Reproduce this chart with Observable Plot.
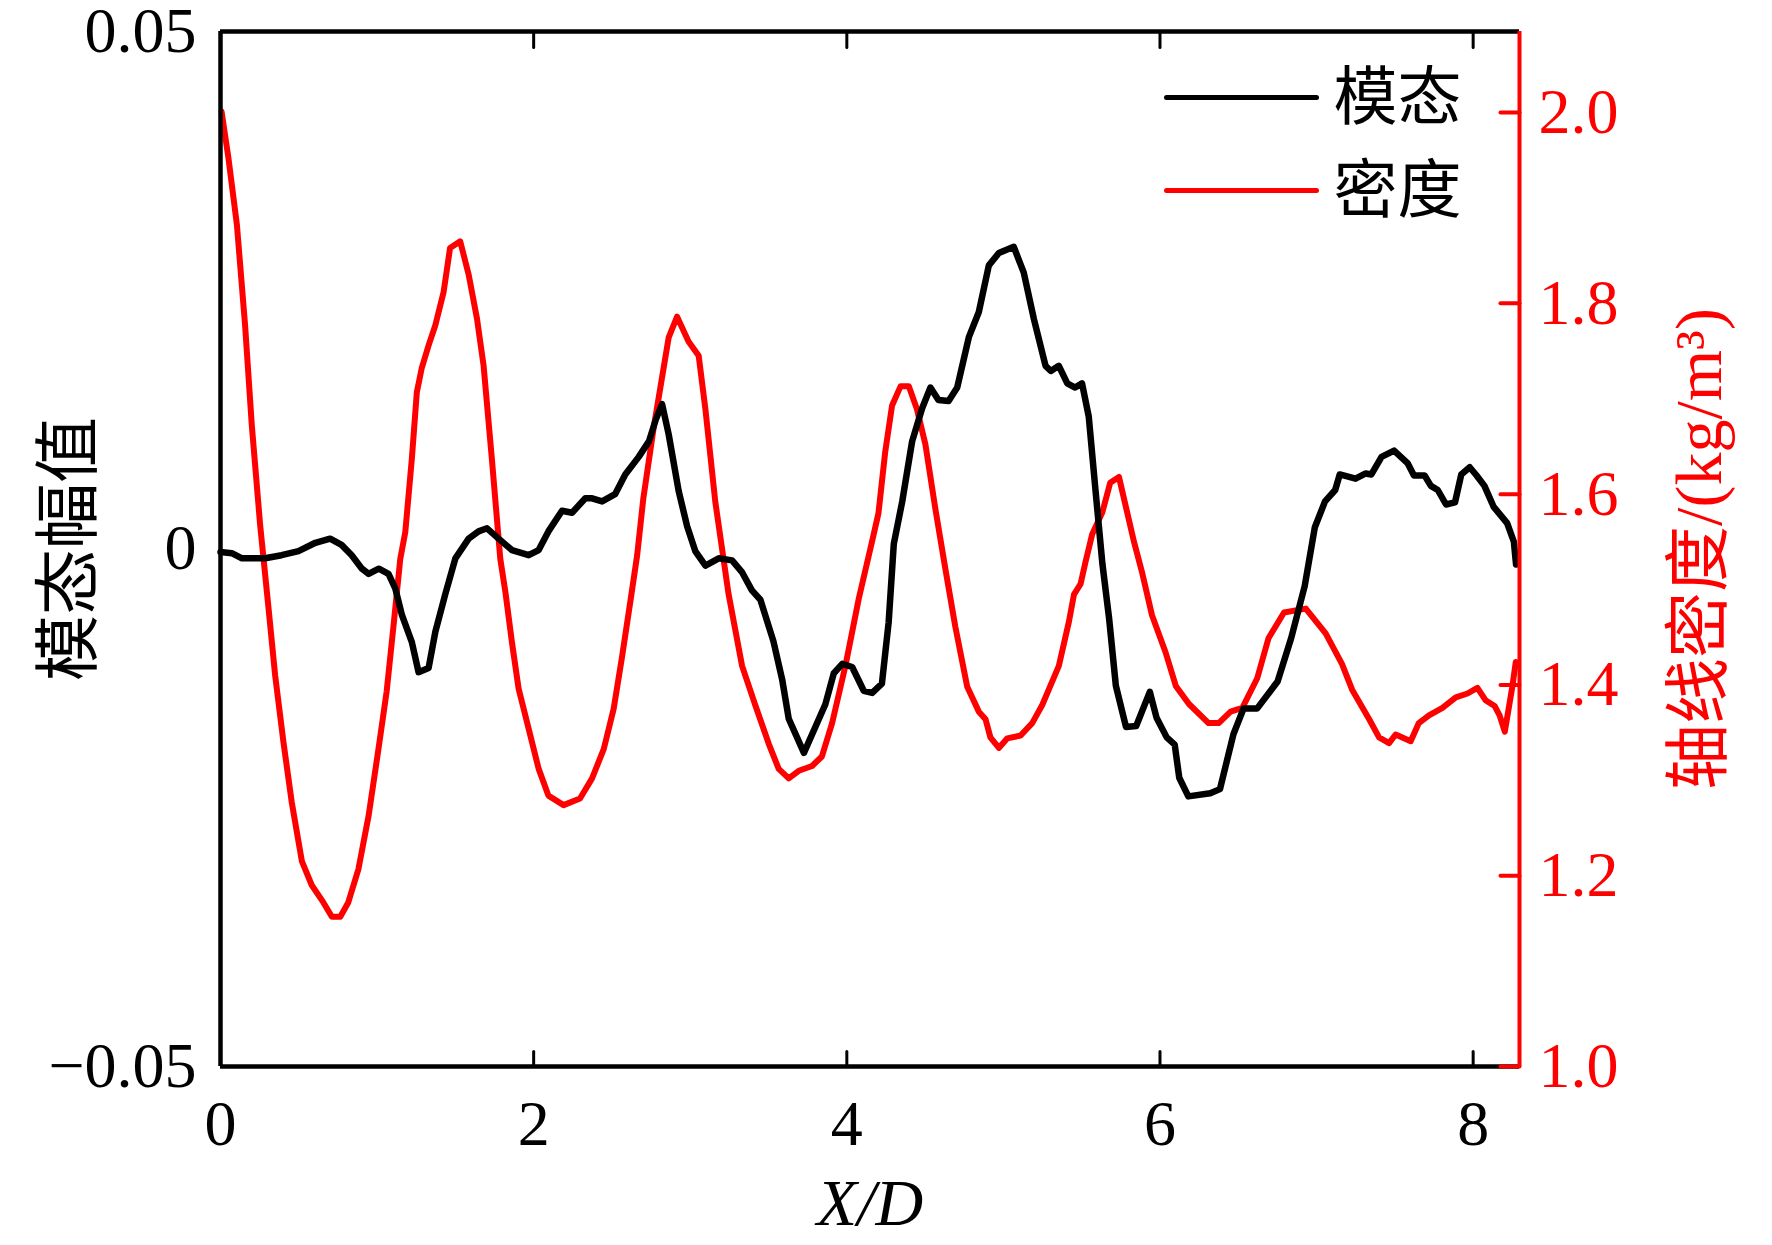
<!DOCTYPE html>
<html>
<head>
<meta charset="utf-8">
<script src="https://cdn.jsdelivr.net/npm/d3@7"></script>
<script src="https://cdn.jsdelivr.net/npm/@observablehq/plot@0.6"></script>
<style>
  html, body { margin: 0; padding: 0; background: #fff; }
  #chart svg { display: block; }
</style>
</head>
<body>
<div id="chart"></div>
<script>
// ---------- data ----------
const modeX = [0,0.072,0.137,0.285,0.390,0.498,0.606,0.700,0.773,0.838,
  0.903,0.946,1.011,1.073,1.116,1.159,1.222,1.265,1.329,1.372,
  1.435,1.500,1.585,1.648,1.702,1.776,1.861,1.968,2.032,2.094,
  2.181,2.245,2.330,2.373,2.437,2.520,2.585,2.671,2.736,2.780,
  2.820,2.862,2.926,2.980,3.032,3.097,3.182,3.267,3.329,3.394,
  3.448,3.531,3.587,3.629,3.726,3.863,3.917,3.971,4.034,4.108,
  4.162,4.224,4.267,4.300,4.354,4.417,4.481,4.534,4.585,4.650,
  4.705,4.780,4.843,4.907,4.971,5.066,5.130,5.195,5.269,5.303,
  5.354,5.408,5.458,5.502,5.545,5.588,5.632,5.675,5.718,5.783,
  5.848,5.935,5.978,6.043,6.094,6.123,6.181,6.321,6.383,6.469,
  6.534,6.621,6.751,6.838,6.924,6.989,7.054,7.119,7.148,7.249,
  7.314,7.350,7.415,7.495,7.581,7.622,7.690,7.730,7.774,7.827,
  7.884,7.924,7.978,8.022,8.072,8.130,8.217,8.260,8.274];
const modeY = [-0.0003,-0.0004,-0.0009,-0.0009,-0.0006,-0.0002,0.0006,0.0010,0.0004,-0.0006,
  -0.0019,-0.0024,-0.0019,-0.0024,-0.0038,-0.0064,-0.0090,-0.0119,-0.0115,-0.0080,
  -0.0044,-0.0009,0.0010,0.0017,0.0020,0.0010,-0.0001,-0.0006,-0.0001,0.0017,
  0.0037,0.0035,0.0049,0.0049,0.0046,0.0053,0.0072,0.0089,0.0104,0.0125,
  0.0140,0.0111,0.0056,0.0022,-0.0002,-0.0016,-0.0009,-0.0011,-0.0022,-0.0040,
  -0.0049,-0.0089,-0.0126,-0.0164,-0.0197,-0.0150,-0.0120,-0.0111,-0.0114,-0.0137,
  -0.0139,-0.0130,-0.0071,0.0005,0.0046,0.0104,0.0136,0.0156,0.0144,0.0143,
  0.0156,0.0205,0.0229,0.0274,0.0286,0.0292,0.0267,0.0222,0.0177,0.0172,
  0.0177,0.0160,0.0156,0.0160,0.0128,0.0057,-0.0014,-0.0067,-0.0132,-0.0172,
  -0.0171,-0.0138,-0.0163,-0.0182,-0.0189,-0.0221,-0.0239,-0.0236,-0.0232,-0.0179,
  -0.0154,-0.0154,-0.0128,-0.0086,-0.0036,0.0021,0.0046,0.0057,0.0072,0.0068,
  0.0073,0.0072,0.0089,0.0095,0.0083,0.0071,0.0071,0.0061,0.0057,0.0043,
  0.0045,0.0072,0.0079,0.0071,0.0061,0.0041,0.0025,0.0007,-0.0015];

const densX = [0.007,0.051,0.105,0.157,0.200,0.253,0.307,0.349,0.402,0.455,
  0.520,0.583,0.657,0.711,0.765,0.816,0.881,0.946,1.009,1.061,
  1.105,1.148,1.180,1.222,1.254,1.285,1.329,1.372,1.425,1.466,
  1.531,1.585,1.638,1.680,1.733,1.787,1.819,1.861,1.904,1.968,
  2.032,2.094,2.191,2.296,2.373,2.448,2.511,2.563,2.617,2.661,
  2.700,2.765,2.862,2.916,2.989,3.054,3.097,3.160,3.245,3.331,
  3.415,3.502,3.565,3.629,3.693,3.778,3.841,3.906,3.991,4.077,
  4.162,4.202,4.245,4.289,4.343,4.396,4.448,4.502,4.566,4.630,
  4.693,4.769,4.843,4.886,4.917,4.971,5.025,5.110,5.184,5.248,
  5.354,5.418,5.451,5.493,5.523,5.567,5.632,5.682,5.738,5.834,
  5.884,5.949,6.036,6.101,6.185,6.310,6.375,6.451,6.526,6.621,
  6.693,6.792,6.931,7.058,7.162,7.227,7.336,7.399,7.463,7.505,
  7.601,7.653,7.718,7.804,7.889,7.964,8.027,8.079,8.137,8.169,
  8.202,8.251,8.272];
const densY = [2.001,1.952,1.882,1.777,1.672,1.568,1.480,1.410,1.340,1.277,
  1.215,1.190,1.172,1.157,1.157,1.172,1.207,1.263,1.333,1.393,
  1.462,1.532,1.560,1.637,1.707,1.732,1.756,1.777,1.812,1.858,
  1.865,1.830,1.784,1.735,1.637,1.532,1.498,1.445,1.396,1.354,
  1.312,1.284,1.274,1.281,1.302,1.333,1.375,1.428,1.487,1.536,
  1.595,1.668,1.764,1.786,1.760,1.745,1.689,1.592,1.495,1.420,
  1.379,1.338,1.312,1.302,1.310,1.315,1.325,1.360,1.420,1.491,
  1.551,1.580,1.644,1.693,1.713,1.713,1.689,1.652,1.584,1.521,
  1.461,1.398,1.372,1.364,1.345,1.334,1.344,1.347,1.360,1.379,
  1.420,1.466,1.495,1.506,1.528,1.558,1.581,1.612,1.618,1.550,
  1.519,1.473,1.434,1.399,1.380,1.360,1.360,1.372,1.376,1.407,
  1.449,1.476,1.480,1.454,1.422,1.395,1.364,1.345,1.339,1.348,
  1.341,1.360,1.368,1.376,1.387,1.391,1.397,1.384,1.378,1.368,
  1.351,1.399,1.424];

const xTicks = [0, 2, 4, 6, 8];
const leftTicks = [-0.05, 0, 0.05];
const leftTickLabels = ["\u22120.05", "0", "0.05"];
const rightTicks = [1.0, 1.2, 1.4, 1.6, 1.8, 2.0];
const legendLabels = ["模态", "密度"];
const xLabel = "X/D";
const leftLabel = "模态幅值";
const rightLabel = "轴线密度/(kg/m³)";

const X_DOMAIN = [0, 8.296];
const Y_DOMAIN = [-0.05, 0.05];
const R_DOMAIN = [1.0, 2.085];

// ---------- helpers ----------
const toLeft = r => Y_DOMAIN[0] + (r - R_DOMAIN[0]) / (R_DOMAIN[1] - R_DOMAIN[0]) * (Y_DOMAIN[1] - Y_DOMAIN[0]);
const fromLeft = v => R_DOMAIN[0] + (v - Y_DOMAIN[0]) / (Y_DOMAIN[1] - Y_DOMAIN[0]) * (R_DOMAIN[1] - R_DOMAIN[0]);

const modeData = modeX.map((x, i) => ({x, y: modeY[i]}));
const densData = densX.map((x, i) => ({x, y: toLeft(densY[i])}));

const segShape = { draw(ctx, l) { ctx.moveTo(0, 0); ctx.lineTo(0, -l); } };

const SERIF = "'Liberation Serif', 'Times New Roman', 'Noto Sans CJK SC', serif";
const FS = 64;

const chart = Plot.plot({
  width: 1772,
  height: 1245,
  marginLeft: 220,
  marginRight: 253,
  marginTop: 31,
  marginBottom: 179,
  x: { domain: X_DOMAIN, label: null },
  y: { domain: Y_DOMAIN, label: null },
  style: { background: "#fff", fontFamily: SERIF, color: "black", overflow: "visible" },
  marks: [
    // data lines
    Plot.line(densData, { x: "x", y: "y", stroke: "#ff0000", strokeWidth: 6, strokeLinejoin: "round" }),
    Plot.line(modeData, { x: "x", y: "y", stroke: "#000", strokeWidth: 6.5, strokeLinejoin: "round" }),

    // frame
    Plot.ruleX([X_DOMAIN[0]], { stroke: "#000", strokeWidth: 4.5 }),
    Plot.ruleY([Y_DOMAIN[1]], { stroke: "#000", strokeWidth: 4.5 }),
    Plot.ruleY([Y_DOMAIN[0]], { stroke: "#000", strokeWidth: 4.5 }),
    Plot.ruleX([X_DOMAIN[1]], { stroke: "#ff0000", strokeWidth: 4 }),

    // inward ticks: bottom & top
    Plot.vector(xTicks.filter(d => d > 0), { x: d => d, y: () => Y_DOMAIN[0], length: 15, rotate: 0, anchor: "start", shape: segShape, stroke: "#000", strokeWidth: 3 }),
    Plot.vector(xTicks.filter(d => d > 0), { x: d => d, y: () => Y_DOMAIN[1], length: 16, rotate: 180, anchor: "start", shape: segShape, stroke: "#000", strokeWidth: 3 }),
    // right (red) ticks pointing inward
    Plot.vector(rightTicks, { x: () => X_DOMAIN[1], y: d => toLeft(d), length: 19, rotate: 270, anchor: "start", shape: segShape, stroke: "#ff0000", strokeWidth: 4 }),

    // tick labels
    Plot.axisX(xTicks, { anchor: "bottom", label: null, tickSize: 0, tickPadding: 33, fontSize: FS, fontFamily: SERIF, fill: "#000", tickFormat: d => String(d) }),
    Plot.axisY(leftTicks, { anchor: "left", label: null, tickSize: 0, tickPadding: 24, fontSize: FS, fontFamily: SERIF, fill: "#000", tickFormat: d => leftTickLabels[leftTicks.indexOf(d)] }),
    Plot.axisY(rightTicks.map(toLeft), { anchor: "right", label: null, tickSize: 0, tickPadding: 19, fontSize: FS, fontFamily: SERIF, fill: "#ff0000", tickFormat: d => fromLeft(d).toFixed(1) }),

    // axis titles
    Plot.text([leftLabel], { text: d => d, frameAnchor: "left", dx: -151, rotate: -90, textAnchor: "middle", lineAnchor: "middle", fontSize: 66, fontFamily: SERIF, fill: "#000" }),
    Plot.text([rightLabel], { text: d => d, frameAnchor: "right", dx: 180, rotate: -90, textAnchor: "middle", lineAnchor: "middle", fontSize: 66, fontFamily: SERIF, fill: "#ff0000" }),
    Plot.text([xLabel], { text: d => d, frameAnchor: "bottom", dy: 137, lineAnchor: "middle", fontSize: 66, fontStyle: "italic", fontFamily: SERIF, fill: "#000" }),

    // legend
    Plot.vector([legendLabels[0]], { frameAnchor: "top-right", dx: -353, dy: 66, rotate: 90, length: 150, anchor: "start", shape: segShape, stroke: "#000", strokeWidth: 5 }),
    Plot.vector([legendLabels[1]], { frameAnchor: "top-right", dx: -353, dy: 159, rotate: 90, length: 150, anchor: "start", shape: segShape, stroke: "#ff0000", strokeWidth: 5 }),
    Plot.text([legendLabels[0]], { text: d => d, frameAnchor: "top-right", dx: -186, dy: 67, textAnchor: "start", lineAnchor: "middle", fontSize: 64, fontFamily: SERIF, fill: "#000" }),
    Plot.text([legendLabels[1]], { text: d => d, frameAnchor: "top-right", dx: -186, dy: 160, textAnchor: "start", lineAnchor: "middle", fontSize: 64, fontFamily: SERIF, fill: "#000" })
  ]
});

document.getElementById("chart").appendChild(chart);
</script>
</body>
</html>
